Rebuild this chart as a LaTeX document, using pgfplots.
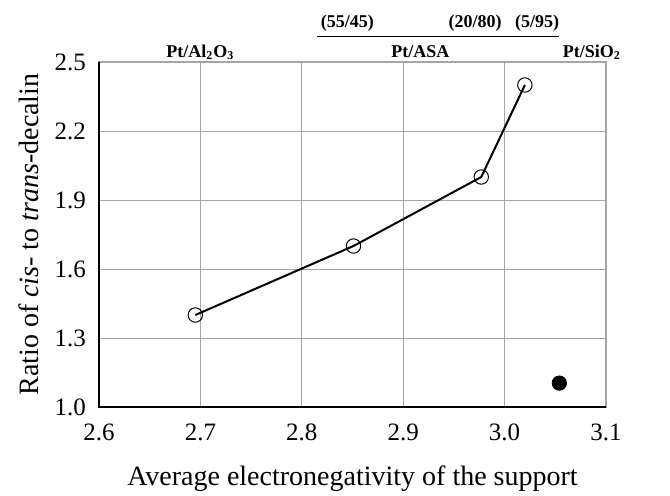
\documentclass[border=0pt]{standalone}
\usepackage{pgfplots}
\pgfplotsset{compat=1.18}
\usepackage{fontspec}
\setmainfont{Liberation Serif}
\begin{document}
\begin{tikzpicture}
\begin{axis}[
  scale only axis, width=253.5pt, height=172.5pt,
  xmin=2.6, xmax=3.1, ymin=1.0, ymax=2.5,
  xtick={2.6,2.7,...,3.1}, ytick={1.0,1.3,...,2.5},
  /pgf/number format/fixed, /pgf/number format/fixed zerofill, /pgf/number format/precision=1,
  /pgf/number format/assume math mode=true,
  ticklabel style={font=\fontsize{12.5}{14}\selectfont},
  major tick length=0pt,
  grid=major, grid style={gray!70, line width=0.4pt},
  axis line style={gray!70, line width=0.6pt},
  xlabel={Average electronegativity of the support},
  ylabel={Ratio of \textit{cis}- to \textit{trans}-decalin},
  label style={font=\fontsize{14}{16}\selectfont},
  xlabel style={at={(axis description cs:0.5,0)}, anchor=center, yshift=-36pt},
  ylabel style={at={(axis description cs:-0.138,0.5)}, anchor=center},
  xticklabel style={yshift=-5pt},
  yticklabel style={xshift=-3pt},
  clip=false,
]
\addplot[black, line width=1pt, mark=o, mark size=3.6pt, mark options={fill=white, line width=0.5pt}]
  coordinates {(2.695,1.4) (2.851,1.7) (2.977,2.0) (3.020,2.4)};
\addplot[only marks, mark=*, mark size=3.6pt, black] coordinates {(3.054,1.104)};
\draw[black, line width=0.9pt] (rel axis cs:0,1) -- (rel axis cs:0,0) -- (rel axis cs:1,0);
\node[font=\fontsize{9}{10}\selectfont\bfseries] at (axis cs:2.7,2.543) {Pt/Al\textsubscript{2}O\textsubscript{3}};
\node[font=\fontsize{9}{10}\selectfont\bfseries] at (axis cs:2.917,2.543) {Pt/ASA};
\node[font=\fontsize{9}{10}\selectfont\bfseries] at (axis cs:3.086,2.543) {Pt/SiO\textsubscript{2}};
\draw[black, line width=0.5pt] (axis cs:2.815,2.609) -- (axis cs:3.054,2.609);
\node[font=\fontsize{9}{10}\selectfont\bfseries] at (axis cs:2.845,2.67) {(55/45)};
\node[font=\fontsize{9}{10}\selectfont\bfseries] at (axis cs:2.971,2.67) {(20/80)};
\node[font=\fontsize{9}{10}\selectfont\bfseries] at (axis cs:3.032,2.67) {(5/95)};
\end{axis}
\pgfresetboundingbox
\path (0,0) ++(-49.5pt,-44pt) rectangle ++(335pt,247.5pt);
\end{tikzpicture}
\end{document}
